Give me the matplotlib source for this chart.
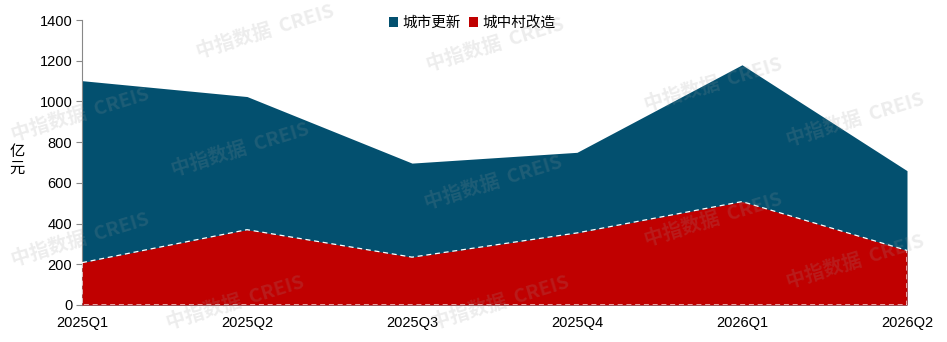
import matplotlib
matplotlib.use("Agg")
import matplotlib.pyplot as plt
import numpy as np

plt.rcParams['font.family'] = ['Liberation Sans', 'Noto Sans CJK SC', 'DejaVu Sans']

quarters = ["2025Q1", "2025Q2", "2025Q3", "2025Q4", "2026Q1", "2026Q2"]
urban_renewal = [1102, 1024, 697, 750, 1180, 660]     # 城市更新
village_renovation = [208, 370, 235, 354, 508, 268]   # 城中村改造
series_names = ["城市更新", "城中村改造"]
blue = "#03506F"
red = "#C00000"

fig = plt.figure(figsize=(9.47, 3.42), dpi=100)
ax = fig.add_axes([82/947, 1-305/342, (907-82)/947, (305-20)/342])
x = np.arange(len(quarters))

ax.fill_between(x, 0, urban_renewal, color=blue, linewidth=0, label=series_names[0], zorder=2)
ax.fill_between(x, 0, village_renovation, color=red, linewidth=0, label=series_names[1], zorder=3)
# white dashed border of the red area
bx = np.concatenate([x, x[::-1], [x[0]]])
by = np.concatenate([village_renovation, np.zeros(len(x)), [village_renovation[0]]])
ax.plot(bx, by, color="white", lw=0.9, ls=(0, (4, 3)), zorder=4)

ax.set_xlim(0, len(x)-1)
ax.set_ylim(0, 1400)
ax.set_yticks(np.arange(0, 1401, 200))
ax.set_xticks(x)
ax.set_xticklabels(quarters)
for s in ["top", "right", "bottom"]:
    ax.spines[s].set_visible(False)
ax.spines["left"].set_color("#888888")
ax.tick_params(axis="y", colors="#888888", length=4, labelsize=10.5, labelcolor="black", pad=3)
ax.tick_params(axis="x", length=0, labelsize=10.5, pad=8)

fig.text(17/947, 1-160/342, "亿\n元", ha="center", va="center", fontsize=11,
         family=['Noto Sans CJK SC', 'DejaVu Sans'], linespacing=1.0)

leg = ax.legend(loc="upper center", bbox_to_anchor=(0.473, 1.06), ncol=2, frameon=False,
                handlelength=0.6, handleheight=0.6, handletextpad=0.3, columnspacing=0.6,
                prop={'family': ['Noto Sans CJK SC', 'DejaVu Sans'], 'size': 10.5})

# watermarks
wm = [(265, 32), (80, 115), (240, 150), (495, 45), (713, 85), (855, 120), (80, 240),
      (493, 183), (713, 220), (855, 262), (500, 303), (235, 303)]
for (px, py) in wm:
    fig.text(px/947, 1-py/342, "中指数据  CREIS", ha="center", va="center", rotation=17,
             fontsize=14, fontweight="bold", color="#9a9a9a", alpha=0.18,
             family=['Noto Sans CJK SC', 'DejaVu Sans'], zorder=10)

fig.savefig("out.png", dpi=100)
